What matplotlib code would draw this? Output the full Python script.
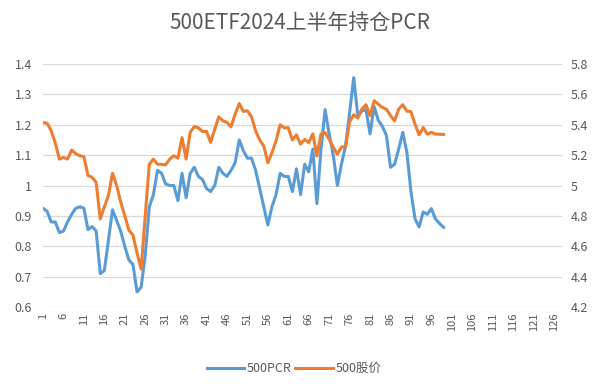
import matplotlib.pyplot as plt
import numpy as np

plt.rcParams['font.family'] = ['Noto Sans CJK SC', 'DejaVu Sans']

# 500 PCR (left axis)
pcr = [0.925, 0.915, 0.88, 0.88, 0.845, 0.85, 0.88, 0.905, 0.925, 0.93,
       0.925, 0.855, 0.865, 0.85, 0.71, 0.72, 0.82, 0.92, 0.885, 0.85,
       0.80, 0.755, 0.74, 0.65, 0.665, 0.77, 0.93, 0.97, 1.05, 1.04,
       1.005, 1.0, 1.0, 0.95, 1.04, 0.96, 1.04, 1.06, 1.03, 1.02,
       0.99, 0.98, 1.0, 1.06, 1.04, 1.03, 1.05, 1.075, 1.15, 1.115,
       1.09, 1.09, 1.05, 0.99, 0.93, 0.87, 0.93, 0.97, 1.04, 1.03,
       1.03, 0.98, 1.055, 0.97, 1.07, 1.045, 1.12, 0.94, 1.12, 1.25,
       1.17, 1.10, 1.0, 1.07, 1.13, 1.24, 1.355, 1.23, 1.245, 1.25,
       1.17, 1.26, 1.215, 1.195, 1.165, 1.06, 1.07, 1.12, 1.175, 1.11,
       0.98, 0.89, 0.864, 0.913, 0.905, 0.924, 0.89, 0.875, 0.862]

# 500 price (right axis)
price = [5.414, 5.41, 5.36, 5.28, 5.174, 5.184, 5.174, 5.234, 5.21, 5.196,
         5.19, 5.066, 5.054, 5.02, 4.78, 4.86, 4.934, 5.08, 5.0, 4.892,
         4.8, 4.706, 4.674, 4.554, 4.45, 4.8, 5.14, 5.174, 5.14, 5.14,
         5.136, 5.174, 5.196, 5.18, 5.316, 5.174, 5.35, 5.388, 5.38, 5.356,
         5.356, 5.284, 5.37, 5.452, 5.426, 5.416, 5.386, 5.47, 5.54, 5.488,
         5.492, 5.452, 5.36, 5.30, 5.26, 5.15, 5.216, 5.294, 5.40, 5.38,
         5.38, 5.30, 5.334, 5.272, 5.304, 5.282, 5.34, 5.194, 5.34, 5.348,
         5.304, 5.254, 5.206, 5.254, 5.254, 5.42, 5.466, 5.444, 5.503, 5.532,
         5.46, 5.558, 5.536, 5.514, 5.503, 5.46, 5.426, 5.503, 5.532, 5.49,
         5.486, 5.404, 5.334, 5.382, 5.338, 5.35, 5.338, 5.338, 5.336]

n_categories = 128
x_ticks = list(range(1, 127, 5))
left_ticks = [0.6, 0.7, 0.8, 0.9, 1.0, 1.1, 1.2, 1.3, 1.4]
left_labels = ['0.6', '0.7', '0.8', '0.9', '1', '1.1', '1.2', '1.3', '1.4']
right_ticks = [4.2, 4.4, 4.6, 4.8, 5.0, 5.2, 5.4, 5.6, 5.8]
right_labels = ['4.2', '4.4', '4.6', '4.8', '5', '5.2', '5.4', '5.6', '5.8']

blue = '#5B9BD5'
orange = '#ED7D31'
txt = '#595959'
grid = '#D9D9D9'

fig = plt.figure(figsize=(6, 3.92), dpi=100)
ax = fig.add_axes([0.0717, 0.2168, 0.8653, 0.6199])
ax2 = ax.twinx()

x = np.arange(1, len(pcr) + 1)
l1, = ax.plot(x, pcr, color=blue, lw=2.2, solid_joinstyle='round', zorder=3)
l2, = ax2.plot(x, price, color=orange, lw=2.2, solid_joinstyle='round', zorder=3)

ax.set_xlim(1, n_categories)
ax.set_ylim(0.6, 1.4)
ax2.set_ylim(4.2, 5.8)
ax.set_yticks(left_ticks)
ax.set_yticklabels(left_labels)
ax2.set_yticks(right_ticks)
ax2.set_yticklabels(right_labels)
ax.set_xticks(x_ticks)
ax.set_xticklabels([str(t) for t in x_ticks], rotation=90)

for t in left_ticks:
    ax.axhline(t, color=grid, lw=0.9, zorder=0)

for a in (ax, ax2):
    for s in a.spines.values():
        s.set_visible(False)
    a.tick_params(length=0, colors=txt, labelsize=9)
ax.tick_params(axis='x', labelsize=8, pad=4)
ax.tick_params(axis='y', pad=8)
ax2.tick_params(axis='y', pad=6)

fig.suptitle('500ETF2024上半年持仓PCR', x=0.5, y=0.97, fontsize=15, color=txt)

fig.legend([l1, l2], ['500PCR', '500股价'], loc='center', bbox_to_anchor=(0.49, 0.06),
           ncol=2, frameon=False, fontsize=9, labelcolor=txt, handlelength=3,
           columnspacing=0.3, handletextpad=0.2)

fig.savefig('out.png', dpi=100)
